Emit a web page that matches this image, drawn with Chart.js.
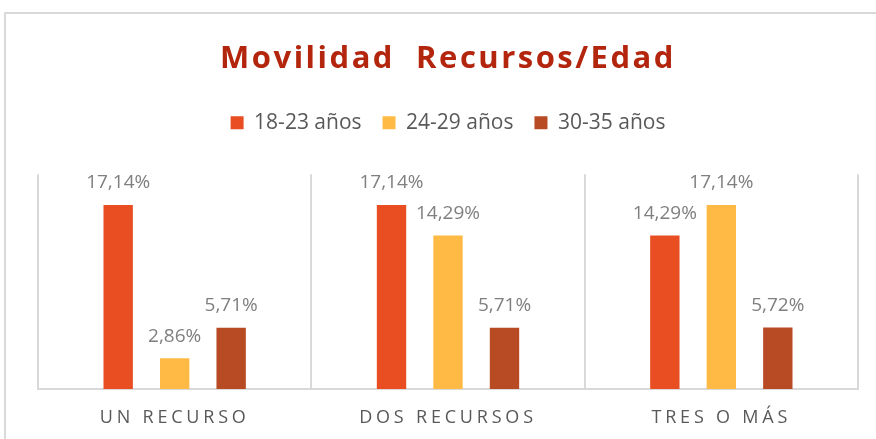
<!DOCTYPE html>
<html>
<head>
<meta charset="utf-8">
<script src="https://cdn.jsdelivr.net/npm/chart.js@4"></script>
<style>
    body { margin: 0; background: #fff; }
    #frame { position: absolute; left: 4px; top: 12px; width: 900px; height: 500px; border: 2px solid #d9d9d9; }
    #wrap { position: absolute; left: 0; top: 0; width: 876px; height: 439px; }
</style>
</head>
<body>
<div id="frame"></div>
<div id="wrap"><canvas id="grafik"></canvas></div>
<script>
const kategori = ['UN RECURSO', 'DOS RECURSOS', 'TRES O MÁS'];
const edad18a23 = [17.14, 17.14, 14.29];
const edad24a29 = [2.86, 14.29, 17.14];
const edad30a35 = [5.71, 5.71, 5.72];

const etiquetaPlugin = {
    id: 'etiquetas',
    afterDatasetsDraw(chart) {
        const ctx = chart.ctx;
        ctx.save();
        ctx.font = '19px "Open Sans", sans-serif';
        ctx.fillStyle = '#7f7f7f';
        ctx.textAlign = 'center';
        ctx.textBaseline = 'middle';
        chart.data.datasets.forEach((ds, i) => {
            chart.getDatasetMeta(i).data.forEach((bar, j) => {
                const txt = ds.data[j].toFixed(2).replace('.', ',') + '%';
                ctx.fillText(txt, bar.x, bar.y - 22);
            });
        });
        ctx.restore();
    }
};

// letter spacing for the category labels and the title, extra room under the legend
const espacioPlugin = {
    id: 'espacio',
    beforeLayout(chart) {
        const lg = chart.legend;
        if (lg && !lg._espacio) {
            const origFit = lg.fit.bind(lg);
            lg.fit = function () {
                origFit();
                this.height += 31;
            };
            lg._espacio = true;
        }
    },
    beforeDraw(chart) {
        const sx = chart.scales.x;
        if (!sx._espacio) {
            const orig = sx.drawLabels.bind(sx);
            sx.drawLabels = function (area) {
                chart.ctx.save();
                chart.ctx.letterSpacing = '3.8px';
                orig(area);
                chart.ctx.restore();
            };
            sx._espacio = true;
        }
        const t = chart.titleBlock;
        if (t && !t._espacio) {
            const origT = t.draw.bind(t);
            t.draw = function () {
                chart.ctx.save();
                chart.ctx.letterSpacing = '2.5px';
                origT();
                chart.ctx.restore();
            };
            t._espacio = true;
        }
    }
};

const ctx = document.getElementById('grafik').getContext('2d');
const grafik = new Chart(ctx, {
    type: 'bar',
    data: {
        labels: kategori,
        datasets: [
            { label: '18-23 años', data: edad18a23, backgroundColor: '#E84E22' },
            { label: '24-29 años', data: edad24a29, backgroundColor: '#FFBA45' },
            { label: '30-35 años', data: edad30a35, backgroundColor: '#B84A24' }
        ]
    },
    options: {
        responsive: true,
        maintainAspectRatio: false,
        animation: false,
        categoryPercentage: 0.62,
        barPercentage: 0.52,
        layout: { padding: { left: 38, right: 18, top: 41, bottom: 0 } },
        plugins: {
            title: {
                display: true,
                text: 'Movilidad  Recursos/Edad',
                color: '#B3260D',
                font: { family: '"Open Sans", sans-serif', size: 31, weight: 'bold' },
                padding: { top: 0, bottom: 13 }
            },
            legend: {
                display: true,
                labels: {
                    boxWidth: 13,
                    boxHeight: 13,
                    color: '#595959',
                    font: { family: '"Open Sans", sans-serif', size: 21 },
                    padding: 21
                }
            },
            tooltip: { enabled: false }
        },
        scales: {
            x: {
                grid: { display: true, offset: true, color: '#d9d9d9', lineWidth: 2, drawTicks: false },
                border: { display: true, color: '#d9d9d9', width: 2 },
                ticks: {
                    color: '#595959',
                    font: { family: '"Open Sans", sans-serif', size: 18 },
                    padding: 18
                },
                afterFit(scale) {
                    scale.height = 50;
                }
            },
            y: {
                display: false,
                min: 0,
                max: 20
            }
        }
    },
    plugins: [etiquetaPlugin, espacioPlugin]
});
</script>
</body>
</html>
